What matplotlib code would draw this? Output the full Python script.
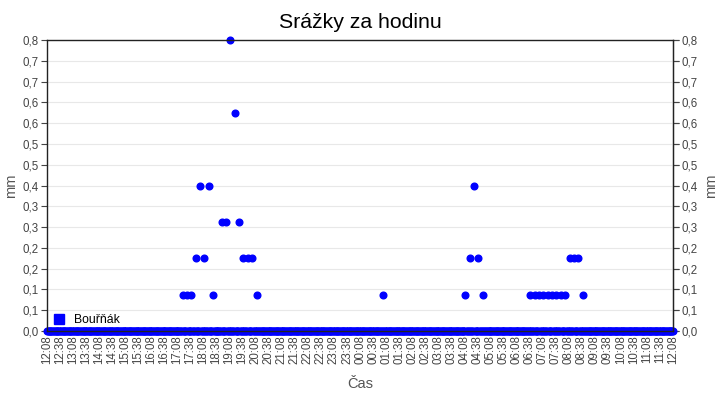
import matplotlib
matplotlib.use("Agg")
import matplotlib.pyplot as plt
import matplotlib.dates as mdates
from matplotlib.lines import Line2D
import numpy as np
import pandas as pd

plt.rcParams['font.family'] = ['Liberation Sans', 'DejaVu Sans']

# ---- data ----
title = "Srážky za hodinu"
series_name = "Bouřňák"
x_label = "Čas"
y_label = "mm"
axis_start = "2024-05-01 12:08"
axis_end = "2024-05-02 12:08"
sample_start = "2024-05-01 12:08"
sample_end = "2024-05-02 12:08"
sample_step = "2min"
wet_times = [
    "2024-05-01 17:20", "2024-05-01 17:30", "2024-05-01 17:40", "2024-05-01 17:50",
    "2024-05-01 18:00", "2024-05-01 18:10", "2024-05-01 18:20", "2024-05-01 18:30",
    "2024-05-01 18:50", "2024-05-01 19:00", "2024-05-01 19:10", "2024-05-01 19:20",
    "2024-05-01 19:30", "2024-05-01 19:40", "2024-05-01 19:50", "2024-05-01 20:00",
    "2024-05-01 20:10",
    "2024-05-02 01:00",
    "2024-05-02 04:10", "2024-05-02 04:20", "2024-05-02 04:30", "2024-05-02 04:40",
    "2024-05-02 04:50",
    "2024-05-02 06:40", "2024-05-02 06:50", "2024-05-02 07:00", "2024-05-02 07:10",
    "2024-05-02 07:20", "2024-05-02 07:30", "2024-05-02 07:40", "2024-05-02 07:50",
    "2024-05-02 08:00", "2024-05-02 08:10", "2024-05-02 08:20", "2024-05-02 08:30",
    "2024-05-02 08:40",
]
wet_values = [
    0.1, 0.1, 0.1, 0.2,
    0.4, 0.2, 0.4, 0.1,
    0.3, 0.3, 0.8, 0.6,
    0.3, 0.2, 0.2, 0.2,
    0.1,
    0.1,
    0.1, 0.2, 0.4, 0.2,
    0.1,
    0.1, 0.1, 0.1, 0.1,
    0.1, 0.1, 0.1, 0.1,
    0.1, 0.2, 0.2, 0.2,
    0.1,
]
y_max = 0.8
y_tick_labels = ["0,0", "0,1", "0,1", "0,2", "0,2", "0,3", "0,3", "0,4",
                 "0,5", "0,5", "0,6", "0,6", "0,7", "0,7", "0,8"]

# ---- build series ----
times = pd.date_range(sample_start, sample_end, freq=sample_step)
precip = pd.Series(0.0, index=times)
for t, v in zip(pd.to_datetime(wet_times), wet_values):
    precip[t] = v

# ---- figure ----
fig = plt.figure(figsize=(7.2, 4.0), dpi=100)
ax = fig.add_axes([47 / 720, 1 - 331 / 400, 626 / 720, 291 / 400])

blue = "#0000ff"
tick_col = "#444444"
label_col = "#555555"
tick_fs = 8.3

ax.plot(precip.index, precip.values, linestyle="none", marker="o",
        markersize=4.8, color=blue, clip_on=False, zorder=2)

ax.set_xlim(pd.Timestamp(axis_start), pd.Timestamp(axis_end))
ax.set_ylim(0, y_max)
yticks = np.linspace(0, y_max, len(y_tick_labels))
ax.set_yticks(yticks)
ax.set_yticklabels(y_tick_labels)
ax.yaxis.grid(True, color="#e8e8e8", linewidth=0.8)
ax.set_axisbelow(True)

ax.xaxis.set_major_locator(mdates.MinuteLocator(byminute=[8, 38]))
ax.xaxis.set_major_formatter(mdates.DateFormatter("%H:%M"))
ax.tick_params(axis="x", rotation=90, labelsize=tick_fs, colors=tick_col,
               direction="in", length=3, pad=3)
ax.tick_params(axis="y", labelsize=tick_fs, colors=tick_col, direction="out",
               length=4, pad=2, left=True, right=True, labelleft=True,
               labelright=False)
for t in ax.xaxis.get_major_ticks():
    t.tick1line.set_color("#333333")
for lab in ax.get_xticklabels():
    lab.set_verticalalignment("top")

for s in ax.spines.values():
    s.set_color("#222222")
    s.set_linewidth(1.0)

ax.set_xlabel(x_label, fontsize=10.5, color=label_col, labelpad=9)
ax.set_ylabel(y_label, fontsize=10.5, color=label_col, labelpad=3)
ax2 = ax.secondary_yaxis("right")
ax2.set_yticks(yticks)
ax2.set_yticklabels(y_tick_labels)
ax2.tick_params(labelsize=tick_fs, colors=tick_col, length=4, pad=2)
ax2.spines["right"].set_color("#222222")
ax2.set_ylabel(y_label, fontsize=10.5, color=label_col, labelpad=5)

fig.text(0.5, 1 - 22 / 400, title, ha="center", va="center", fontsize=15.3,
         color="black")

handle = Line2D([], [], linestyle="none", marker="s", markersize=7.5,
                color=blue)
ax.legend([handle], [series_name], loc="center left",
          bbox_to_anchor=(6 / 626, 11 / 291), frameon=False, fontsize=8.8,
          handletextpad=0.75, borderaxespad=0, borderpad=0, handlelength=1.0)

fig.savefig("out.png", dpi=100)
